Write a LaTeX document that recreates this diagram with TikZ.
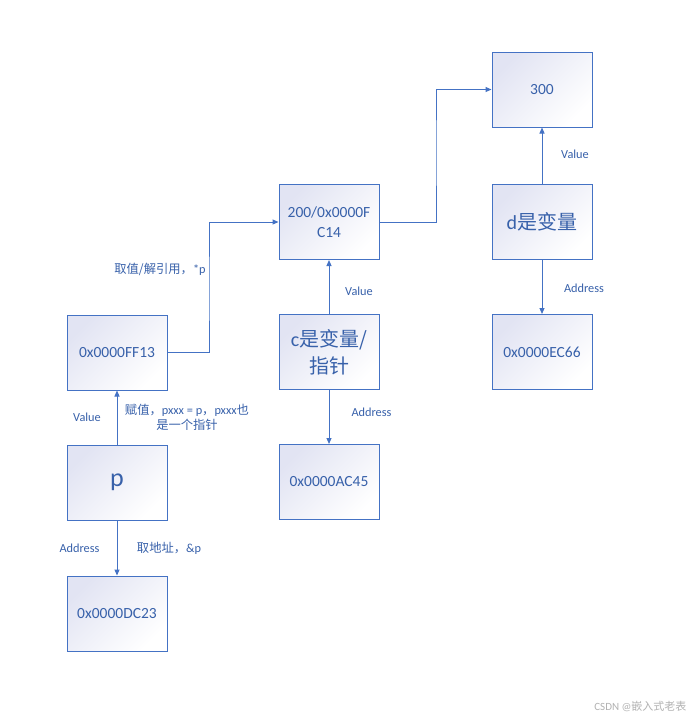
\documentclass[tikz,border=0pt]{standalone}
\usepackage{fontspec}
\setmainfont{Carlito}
\newfontfamily\cjk{Noto Sans CJK SC}
\usetikzlibrary{arrows.meta}
\definecolor{blu}{HTML}{4472C4}
\definecolor{txt}{HTML}{3861AA}
\definecolor{lav}{HTML}{E2E4F3}
\tikzset{
  box/.style={draw=blu, line width=1pt, minimum width=100pt, minimum height=75pt,
    shading=axis, top color=lav, bottom color=white, shading angle=45,
    text=txt, align=center, font=\fontsize{15.5}{20}\selectfont, inner sep=2pt},
  big/.style={font=\fontsize{20}{27}\selectfont},
  conn/.style={draw=blu, line width=1pt, -{Triangle[length=6pt,width=5pt]}},
  lbl/.style={text=txt, font=\fontsize{12.3}{15}\selectfont, align=center, inner sep=0pt}
}
\begin{document}
\begin{tikzpicture}[x=1pt,y=-1pt]
\useasboundingbox (0,0) rectangle (695,721);
\fill[white] (0,0) rectangle (695,721);
% boxes
\node[box] (v300) at (542,89.5) {300};
\node[box, big] (d) at (542,222) {d{\cjk 是变量}};
\node[box] (ec) at (542,352) {0x0000EC66};
\node[box] (fc) at (329,222) {200/0x0000F\\C14};
\node[box, big] (c) at (329,352) {c{\cjk 是变量/}\\{\cjk 指针}};
\node[box] (ac) at (329,482) {0x0000AC45};
\node[box] (ff) at (117,352.5) {0x0000FF13};
\node[box, font=\fontsize{26}{30}\selectfont] (p) at (117,482.5) {p};
\node[box] (dc) at (117,613.5) {0x0000DC23};
% connectors
\draw[conn] (p.north) -- (ff.south);
\draw[conn] (p.south) -- (dc.north);
\draw[conn] (ff.east) -| (209,290) |- (fc.west);
\draw[conn] (c.north) -- (fc.south);
\draw[conn] (c.south) -- (ac.north);
\draw[conn] (fc.east) -| (436,150) |- (v300.west);
\draw[conn] (d.north) -- (v300.south);
\draw[conn] (d.south) -- (ec.north);
% labels
\node[lbl] (l1) at (87,417) {Value};
\node[lbl] (l2) at (187,417) {{\cjk 赋值，}pxxx = p{\cjk ，}pxxx{\cjk 也}\\{\cjk 是一个指针}};
\node[lbl] (l3) at (79.5,548) {Address};
\node[lbl] (l4) at (169,548.5) {{\cjk 取地址，}\&p};
\node[lbl] (l5) at (160,269) {{\cjk 取值/解引用，}*p};
\node[lbl] (l6) at (359,291) {Value};
\node[lbl] (l7) at (371.5,412) {Address};
\node[lbl] (l8) at (575,154) {Value};
\node[lbl] (l9) at (584,288) {Address};
\node[text=black!30, font=\fontsize{11}{12}\selectfont, anchor=east] (wm) at (690,706) {CSDN @{\cjk 嵌入式老表}};
\end{tikzpicture}
\end{document}
